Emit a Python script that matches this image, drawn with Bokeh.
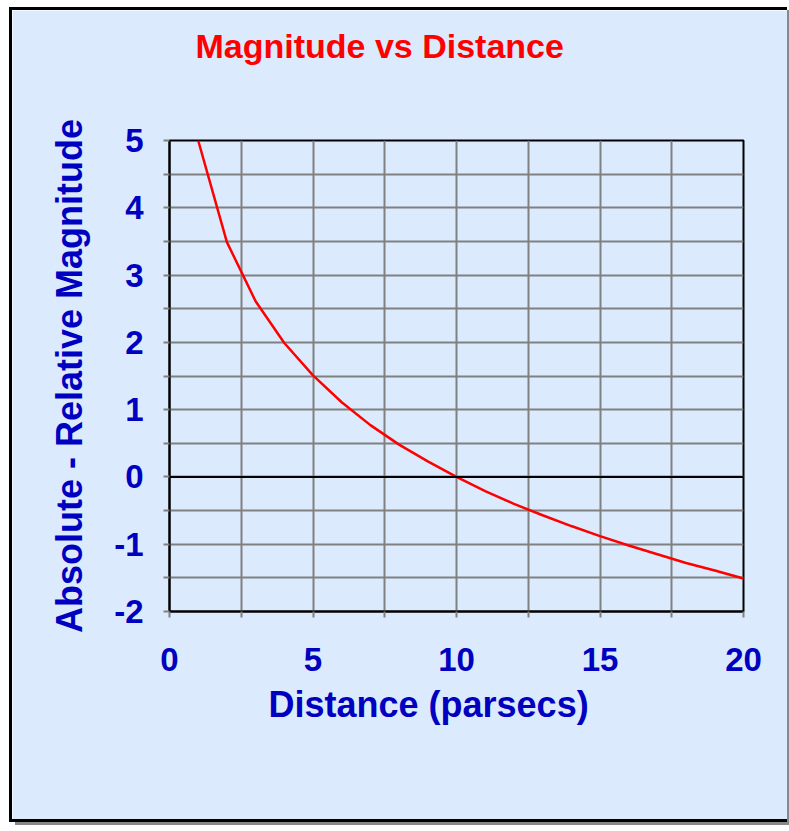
from bokeh.plotting import figure
from bokeh.models import Span, Title, FixedTicker, Range1d
from bokeh.embed import file_html
from bokeh.resources import INLINE

# Data
distance = [1, 2, 3, 4, 5, 6, 7, 8, 9, 10, 11, 12, 13, 14, 15, 16, 17, 18, 19, 20]
mag_diff = [5.0, 3.49, 2.61, 1.99, 1.51, 1.11, 0.77, 0.48, 0.23, 0.0,
            -0.21, -0.40, -0.57, -0.73, -0.88, -1.02, -1.15, -1.28, -1.39, -1.51]
x_ticks = [0, 2.5, 5, 7.5, 10, 12.5, 15, 17.5, 20]
y_ticks = [-2, -1.5, -1, -0.5, 0, 0.5, 1, 1.5, 2, 2.5, 3, 3.5, 4, 4.5, 5]
title_text = "Magnitude vs Distance"
x_title = "Distance (parsecs)"
y_title = "Absolute - Relative Magnitude"

BG = "#dbeafc"
BLUE = "#0000c0"
RED = "#ff0000"
FONT = "Liberation Sans"
W, H = 778, 815

p = figure(width=W, height=H, output_backend="svg", toolbar_location=None,
           x_range=Range1d(0, 20), y_range=Range1d(-2, 5),
           min_border_left=157, min_border_right=47, min_border_top=130,
           min_border_bottom=214)
p.background_fill_color = BG
p.border_fill_color = BG
p.outline_line_color = "black"
p.outline_line_width = 2
p.styles = {"margin-left": "9px", "margin-top": "7px",
            "border-left": "3px solid black", "border-top": "3px solid black",
            "border-bottom": "3px solid black",
            "box-shadow": "6px 3px 0 #888888"}

# chart title
p.title.text = title_text
p.title.align = "left"
p.title.offset = 26
p.title.standoff = 26
p.title.text_color = RED
p.title.text_font = FONT
p.title.text_font_style = "bold"
p.title.text_font_size = "34px"
# empty spacer panel between the title and the plot area
p.add_layout(Title(text=" ", text_font_size="1px", standoff=60), "above")

p.xaxis.ticker = FixedTicker(ticks=x_ticks)
p.yaxis.ticker = FixedTicker(ticks=y_ticks)
p.xaxis.major_label_overrides = {t: (str(int(t)) if t % 5 == 0 else "") for t in x_ticks}
p.yaxis.major_label_overrides = {t: (str(int(t)) if t == int(t) else "") for t in y_ticks}

for ax in (p.xaxis, p.yaxis):
    ax.axis_line_color = "black"
    ax.axis_line_width = 2
    ax.major_tick_line_color = "#808080"
    ax.major_tick_line_width = 2
    ax.major_tick_out = 6
    ax.major_tick_in = 0
    ax.minor_tick_line_color = None
    ax.major_label_text_color = BLUE
    ax.major_label_text_font = FONT
    ax.major_label_text_font_style = "bold"
    ax.major_label_text_font_size = "33px"
p.xaxis.major_label_standoff = 30
p.yaxis.major_label_standoff = 20

p.yaxis.axis_label = y_title
p.yaxis.axis_label_text_color = BLUE
p.yaxis.axis_label_text_font = FONT
p.yaxis.axis_label_text_font_style = "bold"
p.yaxis.axis_label_text_font_size = "36px"
p.yaxis.axis_label_standoff = 21

# x axis title (offset left of the frame centre, as in the reference)
p.add_layout(Title(text=x_title, align="left", offset=99, standoff=16,
                   text_color=BLUE, text_font=FONT, text_font_style="bold",
                   text_font_size="36px"), "below")

p.xgrid.ticker = FixedTicker(ticks=x_ticks)
p.ygrid.ticker = FixedTicker(ticks=y_ticks)
p.grid.grid_line_color = "#808080"
p.grid.grid_line_width = 2
p.grid.grid_line_alpha = 1.0

p.add_layout(Span(location=0, dimension="width", line_color="black", line_width=2))

p.line(distance, mag_diff, line_color=RED, line_width=2.5)

open("out.html", "w").write(file_html(p, INLINE))
